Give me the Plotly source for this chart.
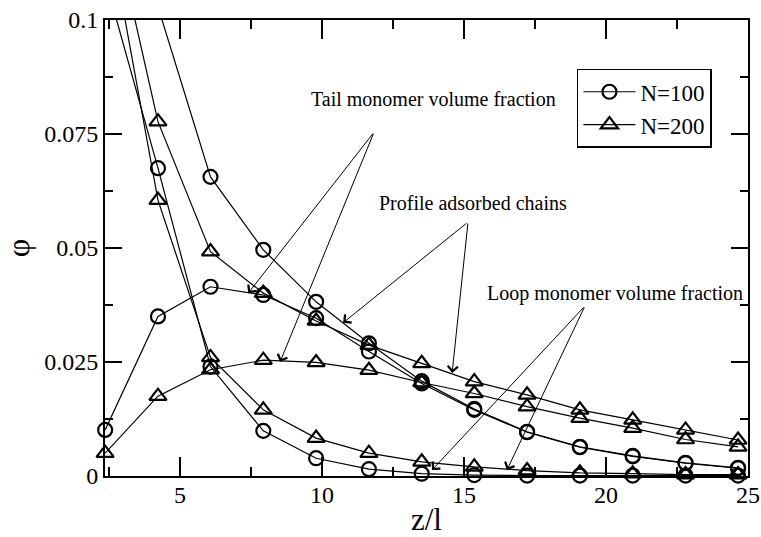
import plotly.graph_objects as go

# ---- data ----
z = [2.36, 4.22, 6.07, 7.93, 9.79, 11.65, 13.51, 15.36, 17.22, 19.08, 20.94, 22.80, 24.65]

profile_100 = [0.119, 0.1029, 0.0656, 0.0496, 0.0382, 0.0291, 0.0208, 0.0147, 0.0097, 0.0064, 0.0044, 0.0029, 0.0018]
tail_100    = [0.0101, 0.0350, 0.0415, 0.0397, 0.0346, 0.0273, 0.0203, 0.0145, 0.0096, 0.0063, 0.0043, 0.0028, 0.0017]
loop_100    = [0.109, 0.0675, 0.0240, 0.0099, 0.0039, 0.0015, 0.0005, 0.0002, 0.0001, 0.0001, 0.0001, 0.0001, 0.0001]

profile_200 = [0.129, 0.0777, 0.0492, 0.0401, 0.0340, 0.0287, 0.0247, 0.0207, 0.0178, 0.0145, 0.0123, 0.0101, 0.0079]
tail_200    = [0.0050, 0.0175, 0.0233, 0.0254, 0.0249, 0.0232, 0.0205, 0.0181, 0.0152, 0.0127, 0.0105, 0.0080, 0.0064]
loop_200    = [0.124, 0.0605, 0.0260, 0.0145, 0.0083, 0.0050, 0.0031, 0.0020, 0.0012, 0.0007, 0.0005, 0.0003, 0.0003]

legend_names = ["N=100", "N=200"]
x_ticks = [5, 10, 15, 20, 25]
y_ticks = [0, 0.025, 0.05, 0.075, 0.1]
y_ticktext = ["0", "0.025", "0.05", "0.075", "0.1"]

# annotations: (label, text position, arrow tail, [arrow tips])
notes = [
    ("Tail monomer volume fraction", (13.93, 0.0827), (11.83, 0.0754), [(7.40, 0.0401), (8.52, 0.0250)]),
    ("Profile adsorbed chains", (15.30, 0.0599), (15.14, 0.0557), [(10.74, 0.0336), (14.58, 0.0226)]),
    ("Loop monomer volume fraction", (20.32, 0.0401), (19.26, 0.0373), [(13.87, 0.0013), (16.51, 0.0013)]),
]

FONT = "Liberation Serif"

fig = go.Figure()

series = [
    (profile_100, "circle-open", 0, True),
    (tail_100, "circle-open", 0, False),
    (loop_100, "circle-open", 0, False),
    (profile_200, "triangle-up-open", 1, True),
    (tail_200, "triangle-up-open", 1, False),
    (loop_200, "triangle-up-open", 1, False),
]
for ys, sym, gi, show in series:
    fig.add_trace(go.Scatter(
        x=z, y=ys, mode="lines+markers",
        name=legend_names[gi], legendgroup=legend_names[gi], showlegend=show,
        line=dict(color="black", width=1.2),
        marker=dict(symbol=sym, size=14 if gi == 0 else 15, color="black",
                    line=dict(color="black", width=2.2)),
        cliponaxis=False,
    ))

annotations = []
for label, (tx, ty), (ax, ay), tips in notes:
    annotations.append(dict(x=tx, y=ty, xref="x", yref="y", text=label, showarrow=False,
                            font=dict(family=FONT, size=20, color="black")))
    for (hx, hy) in tips:
        annotations.append(dict(x=hx, y=hy, xref="x", yref="y", ax=ax, ay=ay,
                                axref="x", ayref="y", text="", showarrow=True,
                                arrowhead=4, arrowsize=2, arrowwidth=1, arrowcolor="black"))

axis_common = dict(
    showline=True, linecolor="black", linewidth=2, mirror="allticks",
    ticks="inside", tickcolor="black", tickwidth=2, showgrid=False, zeroline=False,
    tickfont=dict(family=FONT, size=24, color="black"), automargin=False,
)

fig.update_layout(
    width=761, height=537,
    margin=dict(l=105, r=13, t=20, b=61),
    paper_bgcolor="white", plot_bgcolor="white",
    font=dict(family=FONT, color="black"),
    xaxis=dict(range=[2.355, 25], tickvals=x_ticks, ticklen=19, ticklabelstandoff=-4,
               minor=dict(dtick=2.5, tick0=0, ticks="inside", ticklen=9, tickwidth=2, tickcolor="black"),
               title=dict(text="z/l", font=dict(family=FONT, size=31, color="black"), standoff=2),
               **axis_common),
    yaxis=dict(range=[0, 0.1], tickvals=y_ticks, ticktext=y_ticktext, ticklen=17,
               minor=dict(dtick=0.0125, tick0=0, ticks="inside", ticklen=8, tickwidth=2, tickcolor="black"),
               title=dict(text="φ", font=dict(family=FONT, size=32, color="black"), standoff=18),
               **axis_common),
    legend=dict(x=0.734, y=0.893, xanchor="left", yanchor="top",
                bordercolor="black", borderwidth=1.5, bgcolor="white",
                font=dict(family=FONT, size=23, color="black"),
                tracegroupgap=0, itemwidth=52),
    annotations=annotations,
    showlegend=True,
)

fig.write_html("out.html")
